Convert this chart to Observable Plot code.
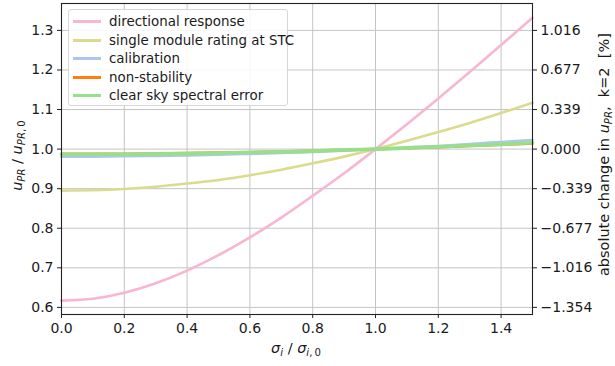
<!DOCTYPE html>
<html><head><meta charset="utf-8">
<script src="https://cdn.jsdelivr.net/npm/d3@7"></script>
<script src="https://cdn.jsdelivr.net/npm/@observablehq/plot@0.6"></script>
<style>
body{margin:0;background:#fff}
#wrap{position:relative;width:615px;height:366px;font-family:"DejaVu Sans",sans-serif;color:#1a1a1a}
#wrap svg{position:absolute;left:0;top:0}
.lab{position:absolute;font-size:14.5px;white-space:nowrap;line-height:1}
.lab i{font-style:italic}
.lab sub{font-size:0.7em;vertical-align:-0.3em}
#legend{position:absolute;left:68px;top:9px;width:220px;height:97px;box-sizing:border-box;border:1px solid #d6d6d6;border-radius:3px;background:rgba(255,255,255,0.85)}
.row{position:absolute;left:0;height:18px;display:flex;align-items:center;font-size:13.4px;white-space:nowrap;width:260px}
.row span.h{display:inline-block;width:28px;height:3px;margin-left:4px;margin-right:8px;flex:none}
</style></head><body><div id="wrap"></div>
<script>
// x values (sigma_i / sigma_i,0)
const sigmaRatio = [0,0.1,0.2,0.3,0.4,0.5,0.6,0.7,0.8,0.9,1.0,1.1,1.2,1.3,1.4,1.5];
// series values (u_PR / u_PR,0)
const directionalResponse = [0.617,0.622,0.637,0.661,0.693,0.732,0.777,0.827,0.882,0.939,1.000,1.063,1.128,1.195,1.263,1.332];
const singleModuleRating  = [0.895,0.896,0.899,0.905,0.913,0.922,0.934,0.948,0.964,0.981,1.000,1.021,1.043,1.066,1.091,1.117];
const calibration         = [0.981,0.981,0.982,0.983,0.984,0.986,0.988,0.990,0.993,0.996,1.000,1.004,1.008,1.013,1.018,1.023];
const nonStability        = [0.988,0.988,0.988,0.989,0.990,0.991,0.992,0.994,0.996,0.998,1.000,1.002,1.005,1.008,1.011,1.014];
const clearSkySpectral    = [0.987,0.987,0.987,0.988,0.989,0.990,0.992,0.993,0.995,0.998,1.000,1.003,1.006,1.009,1.012,1.016];
const seriesNames  = ["directional response","single module rating at STC","calibration","non-stability","clear sky spectral error"];
const seriesValues = [directionalResponse, singleModuleRating, calibration, nonStability, clearSkySpectral];
const seriesColors = ["#f7b6d2","#dbdb8d","#aec7e8","#ff7f0e","#98df8a"];
const seriesWidths = [2.6,2.6,2.6,2.6,3.6];
// ticks
const xTicks = [0,0.2,0.4,0.6,0.8,1.0,1.2,1.4];
const yTicks = [0.6,0.7,0.8,0.9,1.0,1.1,1.2,1.3];
const rightTickLabels = ["\u22121.354","\u22121.016","\u22120.677","\u22120.339","0.000","0.339","0.677","1.016"];

const rows = [];
seriesValues.forEach((vals, s) => vals.forEach((v, i) => rows.push({x: sigmaRatio[i], y: v, s})));

const plot = Plot.plot({
  width: 615, height: 366,
  marginLeft: 61, marginRight: 83, marginTop: 3, marginBottom: 52,
  style: {fontFamily: "DejaVu Sans, sans-serif", fontSize: "14px", color: "#1a1a1a", background: "white"},
  x: {domain: [0, 1.5]},
  y: {domain: [0.582, 1.368]},
  marks: [
    Plot.gridX(xTicks, {stroke: "#c4c4c4", strokeOpacity: 1, strokeWidth: 1}),
    Plot.gridY(yTicks, {stroke: "#c4c4c4", strokeOpacity: 1, strokeWidth: 1}),
    ...seriesValues.map((vals, s) => Plot.line(rows.filter(r => r.s === s), {x: "x", y: "y", stroke: seriesColors[s], strokeWidth: seriesWidths[s], curve: "natural"})),
    Plot.frame({stroke: "#222", strokeWidth: 1.1}),
    Plot.axisX(xTicks, {anchor: "bottom", tickSize: 4, tickPadding: 5, tickFormat: d => d.toFixed(1), label: null, fontSize: 14, stroke: "#222"}),
    Plot.axisY(yTicks, {anchor: "left", tickSize: 4, tickPadding: 4, tickFormat: d => d.toFixed(1), label: null, fontSize: 14, stroke: "#222"}),
    Plot.axisY(yTicks, {anchor: "right", tickSize: 4, tickPadding: 4, tickFormat: d => rightTickLabels[yTicks.indexOf(d)], label: null, fontSize: 14, stroke: "#222"})
  ]
});
const wrap = document.getElementById("wrap");
wrap.appendChild(plot);

// legend
const lg = document.createElement("div");
lg.id = "legend";
seriesNames.forEach((n, s) => {
  const r = document.createElement("div");
  r.className = "row";
  r.style.top = (2.5 + s * 18.5) + "px";
  r.innerHTML = `<span class="h" style="background:${seriesColors[s]}"></span><span>${n}</span>`;
  lg.appendChild(r);
});
wrap.appendChild(lg);

// axis labels
function addLabel(html, cx, cy, rot) {
  const d = document.createElement("div");
  d.className = "lab";
  d.innerHTML = html;
  wrap.appendChild(d);
  const w = d.offsetWidth, h = d.offsetHeight;
  d.style.left = (cx - w / 2) + "px";
  d.style.top = (cy - h / 2) + "px";
  if (rot) d.style.transform = `rotate(${rot}deg)`;
}
addLabel('<i>u</i><sub><i>PR</i></sub> / <i>u</i><sub><i>PR</i>,\u20090</sub>', 18, 155, -90);
addLabel('<i>σ</i><sub><i>i</i></sub> / <i>σ</i><sub><i>i</i>,\u20090</sub>', 296, 349, 0);
addLabel('absolute change in <i>u</i><sub><i>PR</i></sub>,&nbsp; k=2&nbsp; [%]', 605, 154, -90);
</script>
</body></html>
